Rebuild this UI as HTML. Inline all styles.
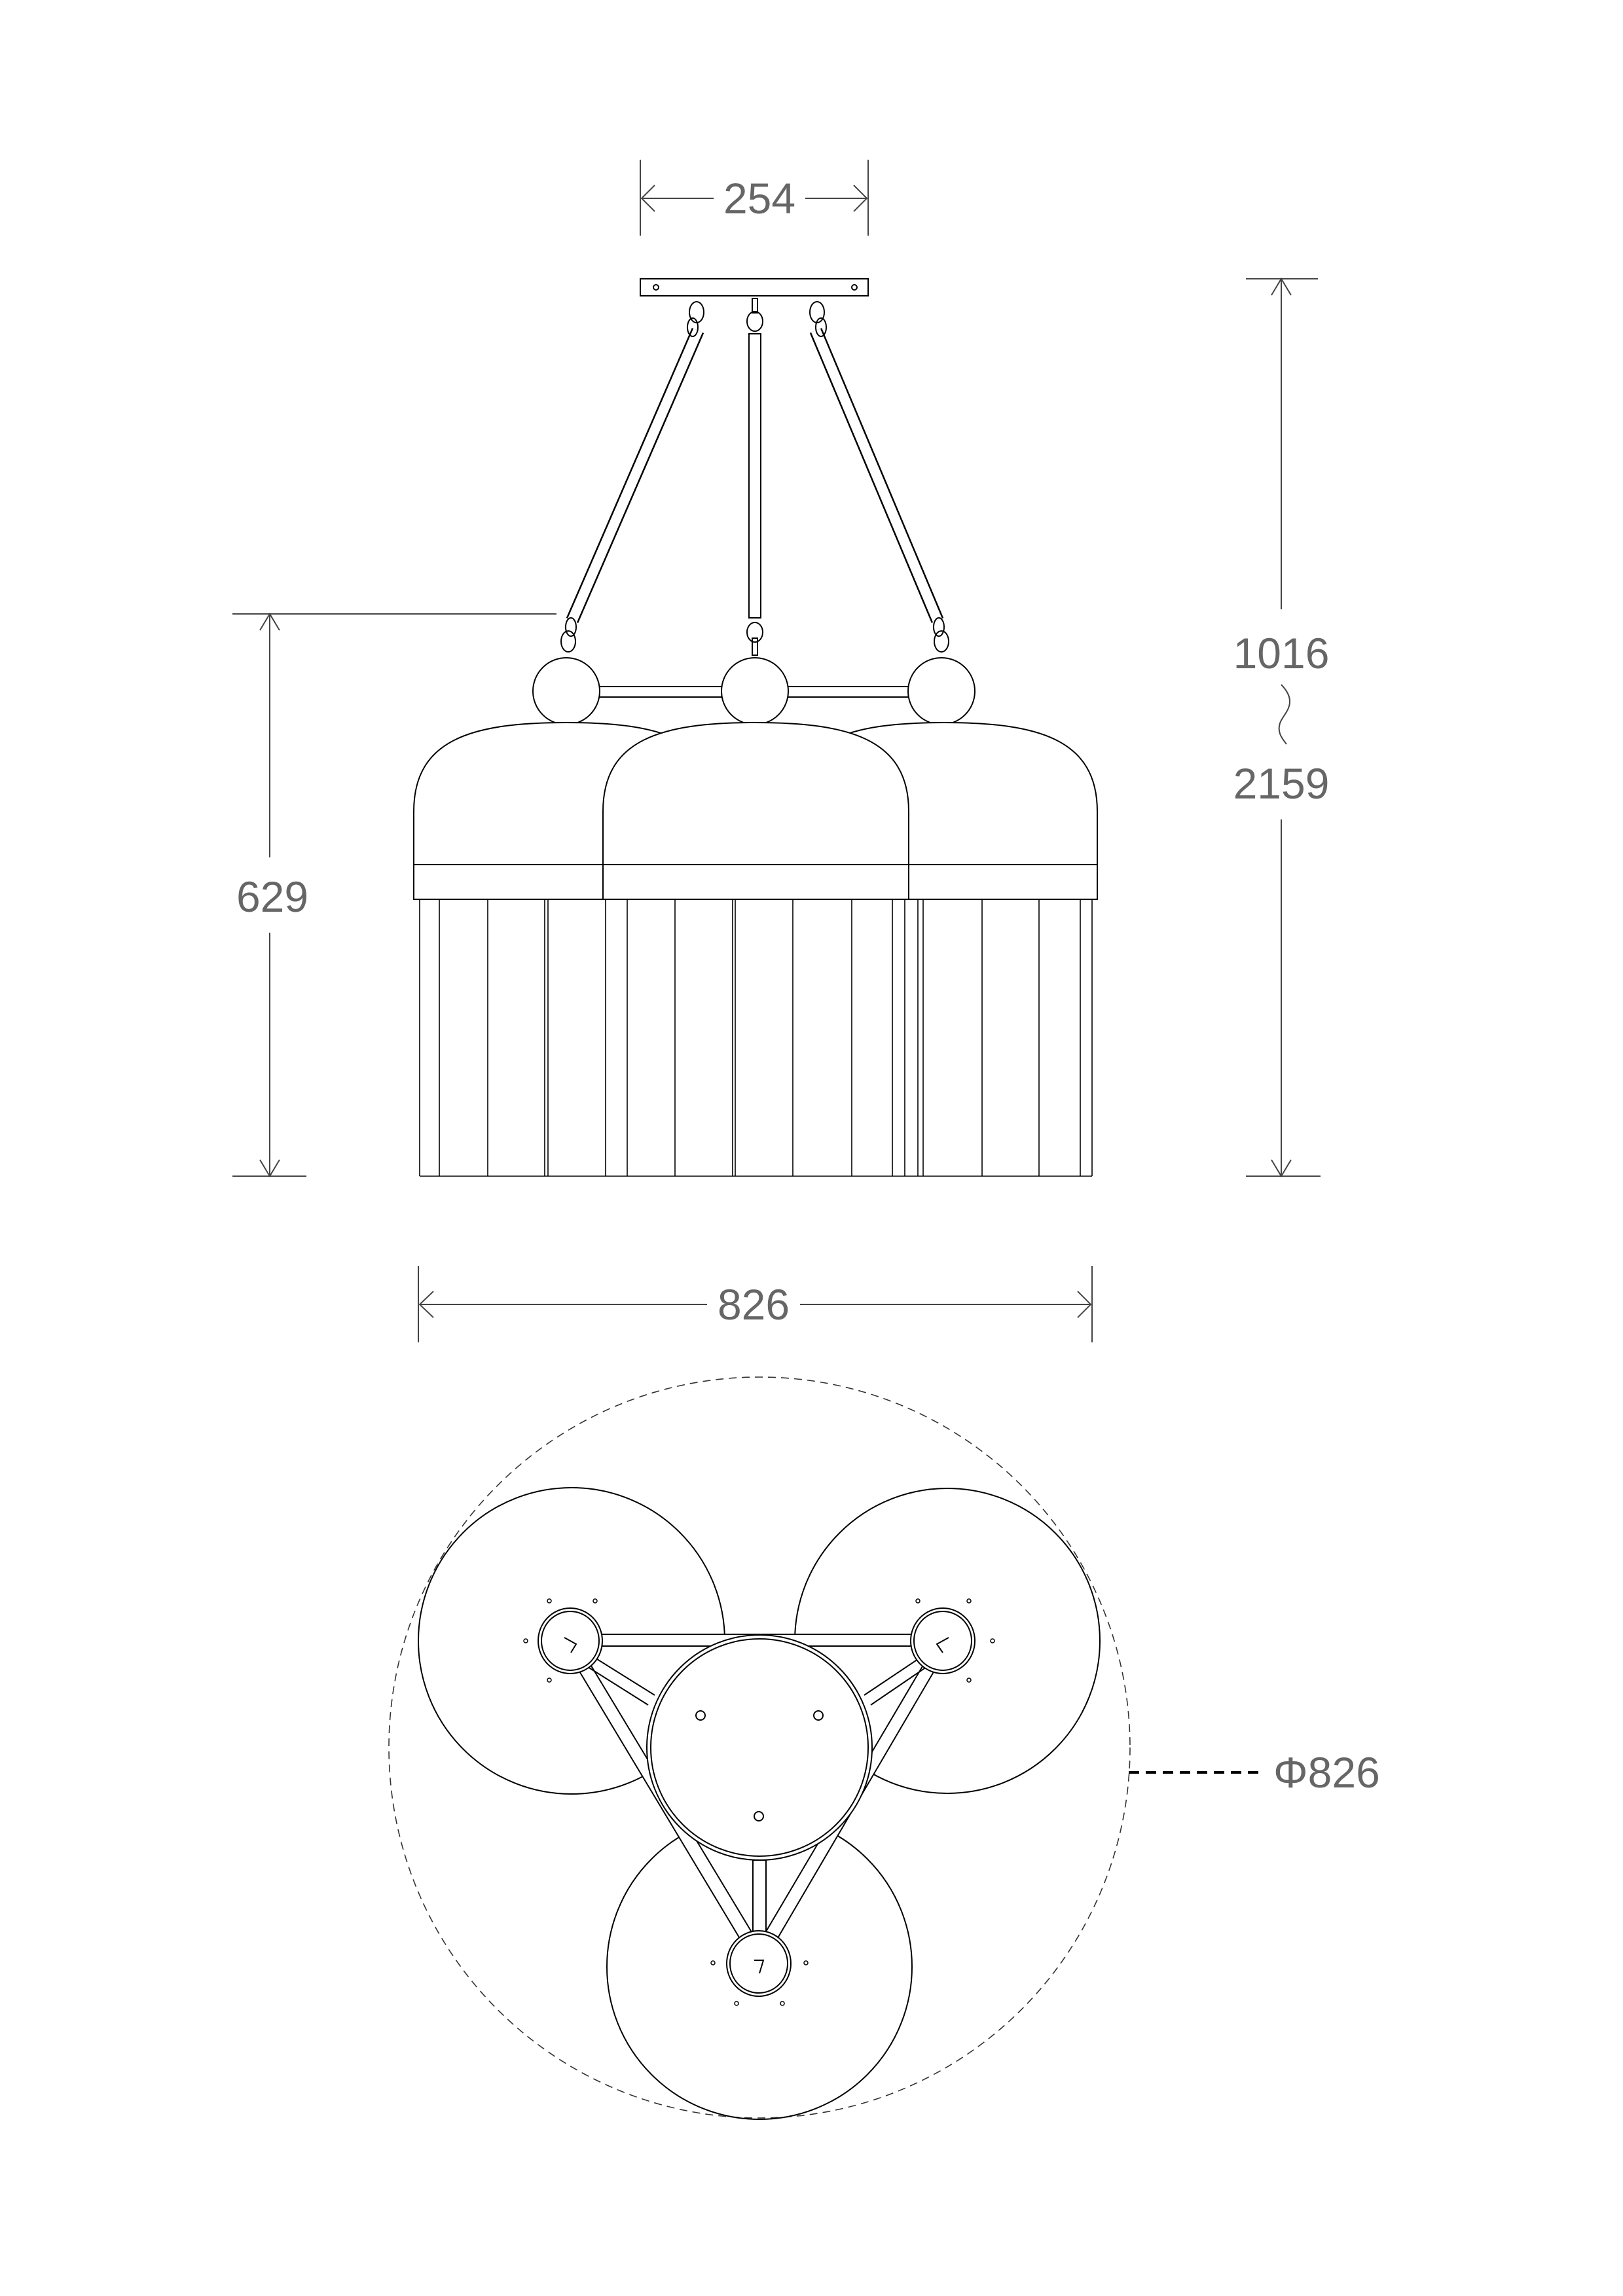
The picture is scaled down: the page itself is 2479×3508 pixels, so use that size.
<!DOCTYPE html>
<html><head><meta charset="utf-8"><style>
html,body{margin:0;padding:0;background:#fff}
svg{display:block}
text{font-family:"Liberation Sans",sans-serif;fill:#666;font-size:66px}
</style></head><body>
<svg width="2479" height="3508" viewBox="0 0 2479 3508" xmlns="http://www.w3.org/2000/svg">
<g fill="none" stroke="#000" stroke-width="2">
<!-- 254 dim -->
<line x1="978" y1="244" x2="978" y2="360" stroke="#444"/>
<line x1="1326" y1="244" x2="1326" y2="360" stroke="#444"/>
<line x1="980" y1="303" x2="1090" y2="303" stroke="#444"/>
<line x1="1230" y1="303" x2="1324" y2="303" stroke="#444"/>
<path d="M1000 283 L980 303 L1000 323 M1304 283 L1324 303 L1304 323" stroke="#444"/>
<!-- canopy -->
<rect x="978" y="426" width="348" height="26"/>
<circle cx="1002" cy="439" r="4"/><circle cx="1305" cy="439" r="4"/>
<!-- rods -->
<line x1="1066" y1="505" x2="874" y2="948" stroke-width="20"/>
<line x1="1066" y1="505" x2="874" y2="948" stroke="#fff" stroke-width="15"/>
<line x1="1246" y1="505" x2="1432" y2="948" stroke-width="20"/>
<line x1="1246" y1="505" x2="1432" y2="948" stroke="#fff" stroke-width="15"/>
<rect x="1144" y="510" width="18" height="434" fill="#fff"/>
<!-- links -->
<ellipse cx="1064" cy="477" rx="11" ry="16"/><ellipse cx="1058" cy="500" rx="8" ry="14"/>
<ellipse cx="1153" cy="491" rx="12" ry="15"/><rect x="1149" y="456" width="8" height="22"/>
<ellipse cx="1248" cy="477" rx="11" ry="16"/><ellipse cx="1254" cy="500" rx="8" ry="14"/>
<ellipse cx="868" cy="980" rx="11" ry="16"/><ellipse cx="872" cy="958" rx="8" ry="14"/>
<ellipse cx="1153" cy="966" rx="12" ry="15"/><rect x="1149" y="975" width="8" height="26"/>
<ellipse cx="1438" cy="980" rx="11" ry="16"/><ellipse cx="1434" cy="958" rx="8" ry="14"/>
<!-- 629 top ext -->
<line x1="355" y1="938" x2="850" y2="938" stroke="#444"/>
<!-- bar and balls -->
<rect x="886" y="1049" width="534" height="16" rx="8" fill="#fff"/>
<circle cx="865" cy="1056" r="51" fill="#fff"/>
<circle cx="1153" cy="1056" r="51" fill="#fff"/>
<circle cx="1438" cy="1056" r="51" fill="#fff"/>
<!-- domes -->
<path d="M632 1321 L632 1240 C632 1130 720 1104 865 1104 C1010 1104 1098 1130 1098 1240 L1098 1321" fill="#fff"/>
<path d="M1209 1321 L1209 1240 C1209 1130 1297 1104 1442 1104 C1587 1104 1676 1130 1676 1240 L1676 1321" fill="#fff"/>
<path d="M921 1321 L921 1240 C921 1130 1009 1104 1154 1104 C1299 1104 1388 1130 1388 1240 L1388 1321 Z" fill="#fff"/>
<rect x="632" y="1321" width="1044" height="53" fill="#fff"/>
<line x1="921" y1="1321" x2="921" y2="1374"/><line x1="1388" y1="1321" x2="1388" y2="1374"/>
<!-- slats -->
<g stroke-width="1.6">
<line x1="641" y1="1374" x2="641" y2="1797"/><line x1="671" y1="1374" x2="671" y2="1797"/>
<line x1="745" y1="1374" x2="745" y2="1797"/><line x1="832" y1="1374" x2="832" y2="1797"/>
<line x1="837" y1="1374" x2="837" y2="1797"/><line x1="925" y1="1374" x2="925" y2="1797"/>
<line x1="958" y1="1374" x2="958" y2="1797"/><line x1="1031" y1="1374" x2="1031" y2="1797"/>
<line x1="1119" y1="1374" x2="1119" y2="1797"/><line x1="1123" y1="1374" x2="1123" y2="1797"/>
<line x1="1211" y1="1374" x2="1211" y2="1797"/><line x1="1301" y1="1374" x2="1301" y2="1797"/>
<line x1="1363" y1="1374" x2="1363" y2="1797"/><line x1="1382" y1="1374" x2="1382" y2="1797"/>
<line x1="1402" y1="1374" x2="1402" y2="1797"/><line x1="1410" y1="1374" x2="1410" y2="1797"/>
<line x1="1500" y1="1374" x2="1500" y2="1797"/><line x1="1587" y1="1374" x2="1587" y2="1797"/>
<line x1="1650" y1="1374" x2="1650" y2="1797"/><line x1="1668" y1="1374" x2="1668" y2="1797"/>
<line x1="641" y1="1797" x2="1668" y2="1797"/>
</g>
<!-- 629 dim -->
<g stroke="#444">
<line x1="412" y1="938" x2="412" y2="1310"/><line x1="412" y1="1425" x2="412" y2="1797"/>
<line x1="355" y1="1797" x2="468" y2="1797"/>
<path d="M397 1772 L412 1797 L427 1772 M397 963 L412 938 L427 963"/>
<!-- 1016/2159 -->
<line x1="1903" y1="426" x2="2013" y2="426"/>
<line x1="1957" y1="426" x2="1957" y2="931"/>
<line x1="1957" y1="1252" x2="1957" y2="1797"/>
<line x1="1903" y1="1797" x2="2017" y2="1797"/>
<path d="M1942 451 L1957 426 L1972 451 M1942 1772 L1957 1797 L1972 1772"/>
<path d="M1957 1046 C1985 1075 1960 1090 1955 1105 C1950 1120 1960 1130 1965 1137"/>
<!-- 826 dim -->
<line x1="639" y1="1934" x2="639" y2="2051"/><line x1="1668" y1="1934" x2="1668" y2="2051"/>
<line x1="641" y1="1993" x2="1080" y2="1993"/><line x1="1222" y1="1993" x2="1666" y2="1993"/>
<path d="M662 1973 L641 1993 L662 2013 M1646 1973 L1666 1993 L1646 2013"/>
</g>
<!-- plan view -->
<circle cx="1160" cy="2670" r="566" stroke="#333" stroke-dasharray="12 8" stroke-width="1.6"/>
<circle cx="873" cy="2507" r="234"/>
<circle cx="1447" cy="2507" r="233"/>
<circle cx="1160" cy="3005" r="233"/>
<!-- frame -->
<g fill="#fff">
<path d="M871 2497 L1440 2497 L1440 2515 L871 2515 Z"/>
<path d="M863 2517 L1150 2995 L1168 2985 L880 2507 Z"/>
<path d="M1448 2517 L1168 2995 L1150 2985 L1432 2507 Z"/>
</g>
<circle cx="1160" cy="2670" r="172" fill="#fff"/>
<circle cx="1160" cy="2670" r="166"/>
<line x1="880" y1="2515" x2="1000" y2="2590"/><line x1="871" y1="2530" x2="990" y2="2605"/>
<line x1="1432" y1="2515" x2="1320" y2="2590"/><line x1="1440" y1="2530" x2="1330" y2="2605"/>
<rect x="1150" y="2842" width="20" height="158" fill="#fff"/>
<ellipse cx="871" cy="2507" rx="49" ry="50" fill="#fff"/><ellipse cx="871" cy="2507" rx="44" ry="45"/>
<ellipse cx="1440" cy="2507" rx="49" ry="50" fill="#fff"/><ellipse cx="1440" cy="2507" rx="44" ry="45"/>
<ellipse cx="1159" cy="3000" rx="49" ry="50" fill="#fff"/><ellipse cx="1159" cy="3000" rx="44" ry="45"/>
<path d="M862 2502 L880 2512 L872 2525 M1449 2502 L1431 2512 L1440 2525 M1152 2995 L1166 2995 L1160 3015"/>
<g stroke-width="1.5">
<circle cx="839" cy="2446" r="3"/><circle cx="909" cy="2446" r="3"/><circle cx="803" cy="2507" r="3"/><circle cx="839" cy="2567" r="3"/>
<circle cx="1402" cy="2446" r="3"/><circle cx="1480" cy="2446" r="3"/><circle cx="1516" cy="2507" r="3"/><circle cx="1480" cy="2567" r="3"/>
<circle cx="1089" cy="2999" r="3"/><circle cx="1231" cy="2999" r="3"/><circle cx="1125" cy="3061" r="3"/><circle cx="1195" cy="3061" r="3"/>
</g>
<circle cx="1070" cy="2621" r="7"/><circle cx="1250" cy="2621" r="7"/><circle cx="1159" cy="2775" r="7"/>
<line x1="1724" y1="2708" x2="1924" y2="2708" stroke-width="4" stroke-dasharray="16 10"/>
</g>
<text x="1160" y="326" text-anchor="middle">254</text>
<text x="416" y="1393" text-anchor="middle">629</text>
<text x="1957" y="1021" text-anchor="middle">1016</text>
<text x="1957" y="1220" text-anchor="middle">2159</text>
<text x="1151" y="2016" text-anchor="middle">826</text>
<text x="1945" y="2731">Φ826</text>
</svg>
</body></html>
